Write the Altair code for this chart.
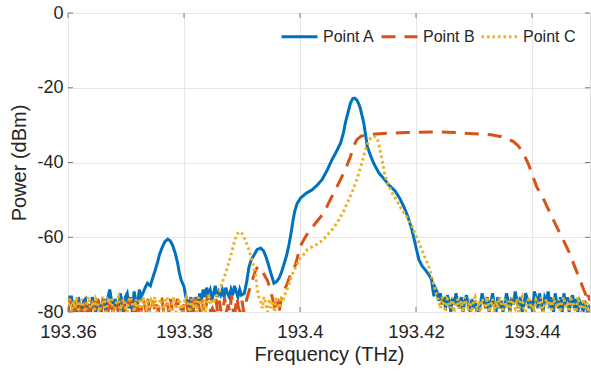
import altair as alt
import pandas as pd

STEP = 0.0003
SERIES = ["Point A", "Point B", "Point C"]
COLORS = ["#0072BD", "#D95319", "#EDB120"]
DASHES = [[1, 0], [14, 9], [2.5, 3]]
XTICKS = [193.36, 193.38, 193.40, 193.42, 193.44]
YTICKS = [-80, -60, -40, -20, 0]

# ---------------- Point A (blue) ----------------
A_noise1_start = 193.3600
A_noise1 = [-80, -76, -76, -80, -77, -80, -76, -79, -80, -77,
            -76.5, -80, -78, -80, -76, -79, -80, -76.5, -78, -80,
            -77, -78, -80, -76, -74, -77, -80, -76.5, -78, -80,
            -75, -77, -80, -76, -75, -79, -76, -80, -74.5, -77,
            -78, -74, -76, -75]
A_hump1_f = [193.3733, 193.3737, 193.3742, 193.3746, 193.3750, 193.3754, 193.3758,
             193.3763, 193.3767, 193.3772, 193.3776, 193.3780, 193.3785, 193.3789,
             193.3792, 193.3795, 193.3800, 193.3803]
A_hump1_p = [-73.5, -72.3, -73, -70.9, -69, -66.9, -64.5,
             -62.5, -61.2, -60.5, -60.9, -62, -64.3, -66.9,
             -69.5, -71.4, -73.2, -75.8]
A_noise2_start = 193.3806
A_noise2 = [-77, -79, -76, -80, -78, -76, -79, -75, -77, -74,
            -76, -73.5, -75, -74, -77, -75, -73, -76, -74.5, -75.5,
            -74, -76, -73.5, -75, -76, -74, -75.5, -73, -74.5, -76,
            -74, -75.5]
A_main_f = [193.3904, 193.3908, 193.3912, 193.3916, 193.3921, 193.3926, 193.3932,
            193.3937, 193.3941, 193.3945, 193.3949, 193.3955, 193.3960, 193.3964,
            193.3968, 193.3972, 193.3977, 193.3981, 193.3985, 193.3988, 193.3991,
            193.3995, 193.4001, 193.4010, 193.4021, 193.4030, 193.4038, 193.4047,
            193.4055, 193.4063, 193.4070, 193.4075, 193.4078, 193.4083, 193.4087,
            193.4091, 193.4094, 193.4098, 193.4101, 193.4104, 193.4107, 193.4110,
            193.4113, 193.4116, 193.4122, 193.4127, 193.4136, 193.4145, 193.4153,
            193.4164, 193.4172, 193.4179, 193.4186, 193.4193, 193.4199, 193.4205,
            193.4211, 193.4216, 193.4222, 193.4227, 193.4229, 193.4231, 193.4233]
A_main_p = [-75, -72, -68, -66, -64.7, -63.3, -62.9,
            -63.6, -65.1, -67, -69.2, -72.3, -71.8, -70.9,
            -69.4, -67.4, -64.8, -62, -58.5, -55.5, -53,
            -51, -49.5, -48.3, -47.3, -46, -44.6, -42,
            -39.3, -37, -34.8, -32, -29.5, -26.5, -24.1,
            -22.9, -22.8, -23.3, -24.2, -25.5, -27.5, -29.5,
            -32.5, -35.7, -38.3, -40.2, -42.8, -44.4, -46,
            -47.6, -49.6, -51.8, -54.5, -58, -62, -66,
            -67.8, -68.7, -70, -71.4, -74, -75.8, -73.5]
A_noise3_start = 193.4236
A_noise3 = [-74.5, -77, -75, -78, -76, -79, -75.5, -77, -80, -76,
            -78, -75, -77.5, -79, -76, -80, -77, -75.5, -78, -80,
            -76.5, -79, -77, -80, -80, -78, -75, -77, -79, -76,
            -80, -77.5, -75, -78, -80, -76, -79, -77, -80, -78,
            -75, -77, -80, -76, -78, -74.5, -77, -79, -76, -80,
            -78, -75, -76.5, -79, -77, -80, -74.5, -76, -79, -75,
            -78, -80, -76, -77, -74.5, -79, -76, -80, -75, -77.5,
            -79, -76, -80, -75, -78, -76, -80, -77, -75.5, -79,
            -76.5, -80, -77, -78, -80, -77, -79, -80, -78]

# ---------------- Point B (orange dashed) ----------------
B_noise1_start = 193.3600
B_noise1 = [-80, -76.5, -76.5, -80, -80, -76.5, -77, -80, -78, -80,
            -76.5, -76.5, -80, -79, -80, -77, -80, -76.5, -80, -80,
            -78, -76.5, -80, -80, -76.5, -79, -80, -77, -77, -80,
            -80, -76.5, -78, -80, -80, -76.5, -76.5, -80, -79, -80,
            -77, -80, -80, -76.5, -78, -80, -76.5, -80, -80, -77,
            -80, -78, -80, -76.5, -76.5, -80, -80, -77.5, -80, -76.5,
            -80, -80, -78, -76.5, -80, -79, -80, -76.5, -76.5, -80,
            -80, -77, -80, -76, -80, -78, -80, -76.5, -80, -80,
            -76, -76, -80, -79, -80, -76.5, -80, -77, -80, -80,
            -76, -80, -78, -80, -75.5, -80, -80, -76, -79, -80,
            -77, -80, -78]
B_main_f = [193.3909, 193.3913, 193.3918, 193.3924, 193.3929, 193.3934, 193.3940,
            193.3944, 193.3948, 193.3952, 193.3955, 193.3958, 193.3961, 193.3964,
            193.3967, 193.3970, 193.3975, 193.3980, 193.3985, 193.3992, 193.3997,
            193.4002, 193.4007, 193.4015, 193.4027, 193.4041, 193.4052, 193.4064,
            193.4078, 193.4087, 193.4093, 193.4098, 193.4105, 193.4113, 193.4136,
            193.4160, 193.4182, 193.4205, 193.4239, 193.4268, 193.4300, 193.4330,
            193.4347, 193.4360, 193.4368, 193.4376, 193.4382, 193.4388, 193.4394,
            193.4400, 193.4408, 193.4419, 193.4428, 193.4442, 193.4450, 193.4464,
            193.4474, 193.4483, 193.4489, 193.4493, 193.4495, 193.4497, 193.4500]
B_main_p = [-76, -74, -71.4, -68.5, -67.8, -68.8, -70.5,
            -71.6, -73.5, -76, -78, -80, -76.5, -80,
            -77, -75, -73.5, -71.5, -69.5, -67.5, -64.5,
            -62, -60.5, -58.5, -56.2, -53.5, -50, -46.4,
            -42, -38.4, -35.5, -33.9, -33, -32.6, -32.3,
            -32.1, -32, -31.9, -31.8, -32, -32.3, -32.6,
            -33.1, -33.8, -34.4, -35.5, -36.8, -38.5, -40.5,
            -43, -46.5, -49.5, -52.5, -57, -59.5, -64,
            -68, -71.5, -74, -75.5, -77, -75.5, -77]

# ---------------- Point C (yellow dotted) ----------------
C_noise1_start = 193.3600
C_noise1 = [-78, -76.5, -80, -77, -79, -76, -80, -78, -76.5, -79,
            -80, -77, -76, -79, -78, -80, -76.5, -77.5, -80, -78,
            -76, -79, -80, -77, -78, -76.5, -80, -79, -77, -76,
            -80, -78, -76.5, -79, -80, -77, -76, -78, -80, -76.5,
            -79, -77, -80, -76, -78, -79, -76.5, -80, -77, -78,
            -76, -80, -79, -76.5, -78, -80, -77, -76, -79, -80,
            -77.5, -76, -80, -78, -76.5, -79, -80, -77, -76, -78,
            -80, -76.5, -79, -77, -80, -76, -78, -79, -76.5, -80,
            -77, -76, -78, -76.5, -77, -76]
C_hump_f = [193.3861, 193.3866, 193.3871, 193.3876, 193.3881, 193.3886, 193.3890,
            193.3895, 193.3900, 193.3905, 193.3909, 193.3914, 193.3918, 193.3922,
            193.3924, 193.3926, 193.3929]
C_hump_p = [-74.5, -72, -70, -67.5, -64.7, -61.8, -59.5,
            -58.5, -59, -60.5, -62, -64.5, -66.5, -69,
            -70.5, -73.5, -76]
C_noise2_start = 193.3932
C_noise2 = [-77, -79, -76, -78, -80, -76.5, -79, -77, -80, -76, -78, -79, -76.5, -77]
C_main_f = [193.3975, 193.3980, 193.3984, 193.3990, 193.3995, 193.3998, 193.4007,
            193.4012, 193.4018, 193.4033, 193.4042, 193.4050, 193.4059, 193.4067,
            193.4076, 193.4084, 193.4091, 193.4098, 193.4105, 193.4113, 193.4119,
            193.4124, 193.4130, 193.4133, 193.4136, 193.4139, 193.4143, 193.4147,
            193.4153, 193.4159, 193.4168, 193.4176, 193.4185, 193.4193, 193.4202,
            193.4210, 193.4216, 193.4222, 193.4226, 193.4230, 193.4233, 193.4236]
C_main_p = [-74.9, -73, -71, -68.7, -67.5, -66, -64.5,
            -63.4, -62.8, -61.6, -60.3, -58.9, -57.3, -55.3,
            -52.8, -50, -47.5, -44.6, -41, -36.6, -34,
            -33.1, -33.1, -33.5, -35.2, -37.5, -40.5, -43.7,
            -46.2, -48.2, -50.5, -52.7, -54.8, -57.1, -60.3,
            -63.4, -65.6, -67.8, -70, -72.3, -74, -75.8]
C_noise3_start = 193.4239
C_noise3 = [-77, -79, -76, -78, -80, -76.5, -77, -79, -76, -80,
            -78, -76.5, -79, -77, -80, -76, -78, -79, -76.5, -80,
            -77, -76, -79, -78, -80, -76.5, -77.5, -79, -76, -80,
            -78, -76.5, -80, -77, -79, -76, -78, -80, -76.5, -79,
            -77, -80, -76, -78, -79, -76.5, -80, -77, -76, -79,
            -80, -77.5, -76, -79, -78, -80, -76.5, -77, -79, -76,
            -80, -78, -76.5, -79, -77, -80, -76, -78, -79, -76.5,
            -80, -77, -76, -79, -78, -80, -76.5, -77, -79, -80,
            -76, -78, -80, -76.5, -79, -77, -80, -78]


def noise(start, vals):
    return [round(start + i * STEP, 6) for i in range(len(vals))], list(vals)


def build(name, segments):
    fs, ps = [], []
    for f, p in segments:
        fs += f
        ps += p
    rows = [(f, p) for f, p in zip(fs, ps) if f <= 193.45 + 1e-9]
    return pd.DataFrame({"f": [r[0] for r in rows], "p": [r[1] for r in rows],
                         "series": name, "idx": range(len(rows))})


dfA = build("Point A", [noise(A_noise1_start, A_noise1), (A_hump1_f, A_hump1_p),
                        noise(A_noise2_start, A_noise2), (A_main_f, A_main_p),
                        noise(A_noise3_start, A_noise3)])
dfB = build("Point B", [noise(B_noise1_start, B_noise1), (B_main_f, B_main_p)])
dfC = build("Point C", [noise(C_noise1_start, C_noise1), (C_hump_f, C_hump_p),
                        noise(C_noise2_start, C_noise2), (C_main_f, C_main_p),
                        noise(C_noise3_start, C_noise3)])

W, H = 522, 299
FONT = "Liberation Sans"
TXT = "#262626"

legend = alt.Legend(orient="none", legendX=212, legendY=4, direction="horizontal",
                    title=None, symbolType="stroke", symbolSize=1296,
                    symbolStrokeWidth=3, labelFontSize=16, labelOffset=4,
                    columnPadding=0, padding=0, labelColor=TXT, labelFont=FONT)

xscale = alt.Scale(domain=[193.36, 193.45], nice=False, zero=False)
yscale = alt.Scale(domain=[-80, 0], nice=False, zero=False)

xaxis = alt.Axis(values=XTICKS, labelExpr="format(datum.value, '.2~f')", grid=True,
                 gridColor="#e6e6e6", ticks=False, domain=False, labelFlush=False,
                 labelFontSize=18.5, labelPadding=10, labelColor=TXT, labelFont=FONT,
                 title="Frequency (THz)", titleFontSize=20, titlePadding=4,
                 titleColor=TXT, titleFont=FONT, titleFontWeight="normal")
yaxis = alt.Axis(values=YTICKS, labelExpr="datum.value + ''", grid=True,
                 gridColor="#e6e6e6", ticks=False, domain=False, labelFlush=False,
                 labelFontSize=18, labelPadding=5, labelColor=TXT, labelFont=FONT,
                 title="Power (dBm)", titleFontSize=20, titlePadding=7,
                 titleColor=TXT, titleFont=FONT, titleFontWeight="normal")

X = alt.X("f:Q", scale=xscale, axis=xaxis)
Y = alt.Y("p:Q", scale=yscale, axis=yaxis)


def line_layer(df):
    return alt.Chart(df).mark_line(strokeWidth=3, clip=True).encode(
        x=X, y=Y,
        color=alt.Color("series:N", scale=alt.Scale(domain=SERIES, range=COLORS), legend=legend),
        strokeDash=alt.StrokeDash("series:N", scale=alt.Scale(domain=SERIES, range=DASHES), legend=legend),
        order="idx:Q",
    )


tick_col = "#7a7a7a"
xt = pd.DataFrame({"f": XTICKS})
yt = pd.DataFrame({"p": YTICKS})
xt_bot = alt.Chart(xt).mark_rule(color=tick_col, strokeWidth=1).encode(
    x=X, y=alt.value(H), y2=alt.value(H - 5))
xt_top = alt.Chart(xt).mark_rule(color=tick_col, strokeWidth=1).encode(
    x=X, y=alt.value(0), y2=alt.value(5))
yt_l = alt.Chart(yt).mark_rule(color=tick_col, strokeWidth=1).encode(
    y=Y, x=alt.value(0), x2=alt.value(5))
yt_r = alt.Chart(yt).mark_rule(color=tick_col, strokeWidth=1).encode(
    y=Y, x=alt.value(W), x2=alt.value(W - 5))

chart = alt.layer(
    line_layer(dfA), line_layer(dfB), line_layer(dfC),
    xt_bot, xt_top, yt_l, yt_r,
).properties(
    width=W, height=H,
    autosize=alt.AutoSizeParams(type="none"),
    padding={"left": 68, "top": 13, "right": 1, "bottom": 59},
).configure_view(
    stroke=tick_col, strokeWidth=1
).configure(background="white")

chart.save("out.html", embed_options={"renderer": "svg", "actions": False})
